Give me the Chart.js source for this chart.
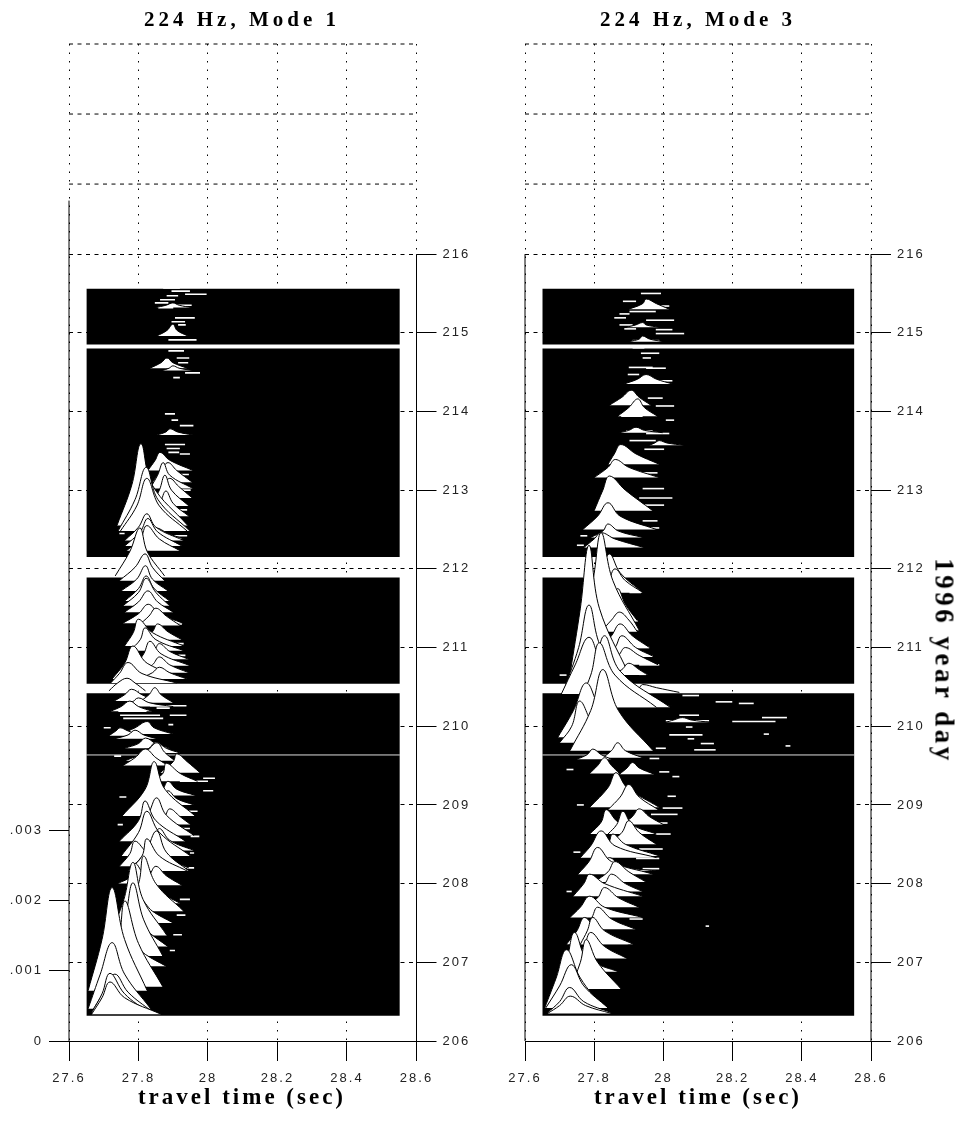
<!DOCTYPE html>
<html>
<head>
<meta charset="utf-8">
<title>224 Hz travel time</title>
<script src="https://cdn.jsdelivr.net/npm/chart.js@4"></script>
<style>
  html, body { margin: 0; background: #fff; }
  body { width: 961px; height: 1123px; position: relative; overflow: hidden; }
  canvas { position: absolute; top: 0; }
  .lbl { position: absolute; font: bold 21px "Liberation Serif", serif; letter-spacing: 4px; color: #000; white-space: nowrap; transform: translate(-50%, -50%); }
  .xlbl { font-size: 23px; letter-spacing: 3px; }
</style>
</head>
<body>
<canvas id="mode1" width="480" height="1123" style="left:0"></canvas>
<canvas id="mode3" width="481" height="1123" style="left:480px"></canvas>
<div class="lbl" style="left:242px;top:19px">224 Hz, Mode 1</div>
<div class="lbl" style="left:698px;top:19px">224 Hz, Mode 3</div>
<div class="lbl xlbl" style="left:242px;top:1097px">travel time (sec)</div>
<div class="lbl xlbl" style="left:698px;top:1097px">travel time (sec)</div>
<div class="lbl" style="left:944px;top:661px;font-size:27px;letter-spacing:3.5px;transform:translate(-50%,-50%) rotate(90deg)">1996 year day</div>
<script>
const timeTicks = [27.6, 27.8, 28, 28.2, 28.4, 28.6];
const dayTicks = [206, 207, 208, 209, 210, 211, 212, 213, 214, 215, 216];
const ampTicks = [0, 0.001, 0.002, 0.003];
const ampLabels = ["0", ".001", ".002", ".003"];
const upperGridDays = [216.89, 217.78, 218.67];

// black data blocks: [bottom day, top day]
const blockDays = [[206.32, 210.42], [210.54, 211.89], [212.15, 214.8], [214.85, 215.56]];
const blockTimes = [27.65, 28.552];
const gapLineDay = 209.635;

// [base day, half height day, peak day, t foot, t rise, t peak, t fall, t tail]
const mode1Traces = [
  [215.32, 215.35, 215.38, 27.848, 27.879, 27.899, 27.917, 27.954],
  [214.96, 215.03, 215.11, 27.853, 27.882, 27.899, 27.911, 27.942],
  [214.55, 214.62, 214.68, 27.833, 27.865, 27.882, 27.899, 27.94],
  [214.52, 214.55, 214.58, 27.868, 27.888, 27.899, 27.917, 27.957],
  [213.7, 213.74, 213.78, 27.853, 27.879, 27.891, 27.912, 27.957],
  [213.25, 213.38, 213.48, 27.827, 27.848, 27.862, 27.89, 27.957],
  [213.1, 213.25, 213.35, 27.84, 27.865, 27.885, 27.91, 27.955],
  [213.02, 213.19, 213.35, 27.833, 27.855, 27.871, 27.89, 27.957],
  [212.9, 213.05, 213.15, 27.85, 27.87, 27.89, 27.915, 27.955],
  [212.8, 213.0, 213.19, 27.835, 27.86, 27.876, 27.895, 27.945],
  [212.67, 212.83, 212.99, 27.84, 27.862, 27.879, 27.9, 27.945],
  [212.55, 213.07, 213.59, 27.738, 27.781, 27.807, 27.839, 27.942],
  [212.5, 212.6, 212.7, 27.81, 27.84, 27.86, 27.88, 27.935],
  [212.48, 212.88, 213.29, 27.741, 27.79, 27.822, 27.856, 27.948],
  [212.48, 212.8, 213.15, 27.748, 27.795, 27.824, 27.86, 27.94],
  [212.38, 212.45, 212.52, 27.8, 27.83, 27.85, 27.885, 27.93],
  [212.36, 212.53, 212.7, 27.76, 27.8, 27.824, 27.85, 27.93],
  [212.29, 212.47, 212.64, 27.76, 27.805, 27.827, 27.855, 27.925],
  [212.23, 212.38, 212.55, 27.765, 27.805, 27.824, 27.86, 27.92],
  [211.91, 212.22, 212.52, 27.733, 27.775, 27.804, 27.825, 27.875],
  [211.85, 212.02, 212.19, 27.745, 27.79, 27.819, 27.84, 27.875],
  [211.72, 211.87, 212.04, 27.75, 27.795, 27.82, 27.84, 27.885],
  [211.59, 211.75, 211.91, 27.76, 27.8, 27.822, 27.845, 27.89],
  [211.53, 211.7, 211.88, 27.755, 27.8, 27.822, 27.85, 27.89],
  [211.45, 211.58, 211.72, 27.76, 27.8, 27.827, 27.855, 27.9],
  [211.31, 211.43, 211.55, 27.755, 27.8, 27.828, 27.86, 27.928],
  [211.28, 211.4, 211.5, 27.8, 27.83, 27.85, 27.88, 27.92],
  [211.1, 211.2, 211.3, 27.81, 27.84, 27.855, 27.885, 27.925],
  [211.02, 211.19, 211.36, 27.76, 27.785, 27.8, 27.84, 27.93],
  [210.96, 211.1, 211.25, 27.775, 27.805, 27.819, 27.85, 27.93],
  [210.85, 210.95, 211.05, 27.82, 27.845, 27.86, 27.89, 27.945],
  [210.77, 210.92, 211.08, 27.79, 27.815, 27.833, 27.865, 27.948],
  [210.68, 210.78, 210.88, 27.8, 27.84, 27.86, 27.89, 27.945],
  [210.6, 210.8, 211.02, 27.724, 27.76, 27.784, 27.825, 27.94],
  [210.6, 210.68, 210.75, 27.8, 27.84, 27.86, 27.89, 27.94],
  [210.55, 210.67, 210.81, 27.72, 27.745, 27.77, 27.81, 27.91],
  [210.45, 210.55, 210.61, 27.715, 27.74, 27.767, 27.79, 27.82],
  [210.32, 210.4, 210.47, 27.73, 27.76, 27.78, 27.81, 27.85],
  [210.3, 210.4, 210.49, 27.8, 27.83, 27.847, 27.865, 27.9],
  [210.25, 210.3, 210.36, 27.75, 27.78, 27.8, 27.83, 27.9],
  [210.19, 210.25, 210.32, 27.72, 27.75, 27.775, 27.8, 27.84],
  [209.9, 209.98, 210.06, 27.75, 27.79, 27.825, 27.845, 27.9],
  [209.88, 209.94, 209.98, 27.715, 27.735, 27.747, 27.77, 27.81],
  [209.84, 209.89, 209.95, 27.73, 27.77, 27.79, 27.815, 27.855],
  [209.72, 209.78, 209.85, 27.76, 27.8, 27.82, 27.85, 27.89],
  [209.66, 209.72, 209.8, 27.8, 27.83, 27.85, 27.88, 27.92],
  [209.56, 209.67, 209.79, 27.76, 27.82, 27.853, 27.875, 27.905],
  [209.5, 209.6, 209.71, 27.755, 27.79, 27.82, 27.85, 27.885],
  [209.41, 209.55, 209.65, 27.862, 27.9, 27.91, 27.94, 27.977],
  [209.3, 209.4, 209.53, 27.84, 27.87, 27.88, 27.92, 27.97],
  [209.12, 209.2, 209.3, 27.85, 27.87, 27.885, 27.91, 27.965],
  [209.0, 209.08, 209.18, 27.85, 27.87, 27.885, 27.91, 27.96],
  [208.86, 208.96, 209.05, 27.85, 27.875, 27.89, 27.92, 27.955],
  [208.86, 209.2, 209.55, 27.753, 27.819, 27.845, 27.876, 27.963],
  [208.75, 208.85, 208.95, 27.85, 27.875, 27.89, 27.92, 27.95],
  [208.61, 208.87, 209.09, 27.76, 27.825, 27.852, 27.88, 27.96],
  [208.54, 208.8, 209.05, 27.745, 27.8, 27.819, 27.85, 27.935],
  [208.42, 208.55, 208.7, 27.8, 27.84, 27.86, 27.89, 27.96],
  [208.35, 208.65, 208.92, 27.75, 27.8, 27.824, 27.86, 27.95],
  [208.22, 208.38, 208.54, 27.745, 27.775, 27.79, 27.83, 27.94],
  [208.2, 208.32, 208.45, 27.79, 27.83, 27.85, 27.88, 27.945],
  [208.16, 208.4, 208.67, 27.77, 27.82, 27.852, 27.88, 27.945],
  [208.16, 208.35, 208.57, 27.77, 27.81, 27.824, 27.86, 27.94],
  [208.0, 208.1, 208.26, 27.74, 27.78, 27.79, 27.82, 27.875],
  [207.98, 208.1, 208.22, 27.8, 27.83, 27.85, 27.88, 27.925],
  [207.75, 207.88, 208.0, 27.77, 27.81, 27.83, 27.865, 27.92],
  [207.65, 208.0, 208.35, 27.76, 27.8, 27.815, 27.85, 27.93],
  [207.5, 207.65, 207.8, 27.75, 27.79, 27.805, 27.84, 27.9],
  [207.34, 207.8, 208.27, 27.718, 27.758, 27.784, 27.813, 27.882],
  [207.2, 207.38, 207.55, 27.74, 27.77, 27.79, 27.83, 27.885],
  [207.08, 207.54, 208.01, 27.72, 27.76, 27.784, 27.815, 27.87],
  [206.95, 207.1, 207.25, 27.73, 27.76, 27.78, 27.82, 27.88],
  [206.69, 207.24, 207.78, 27.7, 27.742, 27.761, 27.8, 27.87],
  [206.64, 207.29, 207.95, 27.655, 27.695, 27.724, 27.76, 27.825],
  [206.41, 206.85, 207.25, 27.655, 27.69, 27.724, 27.76, 27.835],
  [206.37, 206.62, 206.85, 27.665, 27.7, 27.732, 27.77, 27.84],
  [206.36, 206.6, 206.86, 27.665, 27.695, 27.718, 27.76, 27.83],
  [206.34, 206.55, 206.75, 27.665, 27.695, 27.718, 27.76, 27.865],
];

const mode3Traces = [
  [215.3, 215.37, 215.43, 27.9, 27.94, 27.95, 27.98, 28.017],
  [215.07, 215.1, 215.13, 27.892, 27.92, 27.94, 27.95, 27.988],
  [214.89, 214.92, 214.96, 27.902, 27.93, 27.94, 27.96, 27.998],
  [214.35, 214.41, 214.47, 27.887, 27.925, 27.95, 27.98, 28.026],
  [214.08, 214.18, 214.27, 27.844, 27.88, 27.907, 27.93, 27.964],
  [213.94, 214.05, 214.16, 27.868, 27.9, 27.926, 27.945, 27.983],
  [213.73, 213.76, 213.8, 27.873, 27.9, 27.921, 27.945, 27.998],
  [213.57, 213.6, 213.63, 27.959, 27.975, 27.988, 28.01, 28.06],
  [213.33, 213.46, 213.58, 27.84, 27.858, 27.877, 27.921, 27.988],
  [213.16, 213.29, 213.39, 27.8, 27.84, 27.861, 27.9, 27.988],
  [212.74, 213.0, 213.18, 27.8, 27.825, 27.844, 27.89, 27.969],
  [212.5, 212.67, 212.84, 27.767, 27.81, 27.84, 27.875, 27.98],
  [212.4, 212.48, 212.57, 27.79, 27.825, 27.84, 27.87, 27.94],
  [212.27, 212.38, 212.46, 27.77, 27.8, 27.82, 27.86, 27.945],
  [211.7, 211.95, 212.19, 27.79, 27.82, 27.844, 27.875, 27.94],
  [211.7, 211.85, 212.0, 27.8, 27.84, 27.86, 27.89, 27.94],
  [211.34, 211.55, 211.75, 27.8, 27.85, 27.868, 27.89, 27.925],
  [211.22, 211.85, 212.46, 27.758, 27.796, 27.82, 27.854, 27.93],
  [211.2, 211.35, 211.45, 27.82, 27.85, 27.873, 27.9, 27.925],
  [211.0, 211.15, 211.3, 27.82, 27.85, 27.875, 27.91, 27.96],
  [210.89, 211.0, 211.15, 27.83, 27.86, 27.88, 27.92, 27.97],
  [210.78, 210.9, 211.0, 27.83, 27.87, 27.89, 27.93, 27.985],
  [210.66, 211.5, 212.3, 27.73, 27.76, 27.785, 27.815, 27.9],
  [210.65, 210.72, 210.8, 27.85, 27.88, 27.9, 27.93, 27.955],
  [210.49, 211.0, 211.54, 27.715, 27.755, 27.785, 27.82, 27.91],
  [210.43, 210.49, 210.53, 27.9, 27.93, 27.94, 27.98, 28.046],
  [210.41, 210.78, 211.13, 27.705, 27.745, 27.785, 27.825, 27.92],
  [210.26, 210.3, 210.32, 27.9, 27.92, 27.93, 27.97, 28.026],
  [210.24, 210.7, 211.15, 27.76, 27.8, 27.83, 27.875, 28.02],
  [210.24, 210.65, 211.06, 27.75, 27.79, 27.815, 27.86, 27.98],
  [210.05, 210.08, 210.11, 28.007, 28.03, 28.055, 28.08, 28.136],
  [209.86, 210.2, 210.55, 27.695, 27.74, 27.777, 27.82, 27.9],
  [209.79, 210.0, 210.32, 27.7, 27.735, 27.758, 27.8, 27.86],
  [209.69, 210.2, 210.72, 27.73, 27.79, 27.825, 27.87, 27.97],
  [209.6, 209.69, 209.79, 27.825, 27.85, 27.868, 27.89, 27.94],
  [209.58, 209.64, 209.71, 27.75, 27.78, 27.796, 27.82, 27.85],
  [209.4, 209.5, 209.6, 27.787, 27.81, 27.83, 27.85, 27.873],
  [209.39, 209.47, 209.54, 27.873, 27.895, 27.911, 27.93, 27.974],
  [208.97, 209.22, 209.41, 27.787, 27.84, 27.863, 27.895, 27.988],
  [208.94, 209.1, 209.26, 27.84, 27.875, 27.9, 27.93, 27.985],
  [208.75, 208.85, 208.95, 27.88, 27.91, 27.93, 27.96, 28.0],
  [208.63, 208.78, 208.94, 27.787, 27.82, 27.835, 27.87, 27.96],
  [208.63, 208.75, 208.92, 27.84, 27.865, 27.883, 27.91, 27.98],
  [208.5, 208.65, 208.8, 27.84, 27.88, 27.9, 27.93, 27.98],
  [208.35, 208.5, 208.63, 27.8, 27.84, 27.854, 27.89, 27.99],
  [208.33, 208.48, 208.67, 27.76, 27.79, 27.82, 27.86, 27.98],
  [208.16, 208.22, 208.33, 27.8, 27.825, 27.844, 27.88, 27.98],
  [208.12, 208.28, 208.46, 27.753, 27.785, 27.81, 27.85, 27.97],
  [208.02, 208.15, 208.28, 27.8, 27.84, 27.86, 27.9, 27.95],
  [207.9, 208.0, 208.12, 27.79, 27.83, 27.85, 27.89, 27.94],
  [207.84, 208.0, 208.12, 27.739, 27.77, 27.787, 27.83, 27.94],
  [207.7, 207.82, 207.95, 27.77, 27.81, 27.83, 27.87, 27.93],
  [207.57, 207.7, 207.84, 27.73, 27.76, 27.787, 27.83, 27.94],
  [207.42, 207.55, 207.7, 27.75, 27.79, 27.81, 27.85, 27.92],
  [207.23, 207.4, 207.57, 27.72, 27.75, 27.772, 27.81, 27.9],
  [207.23, 207.4, 207.57, 27.76, 27.78, 27.796, 27.83, 27.913],
  [207.05, 207.2, 207.38, 27.74, 27.77, 27.79, 27.83, 27.895],
  [206.88, 207.0, 207.15, 27.72, 27.75, 27.77, 27.8, 27.87],
  [206.68, 207.02, 207.38, 27.687, 27.72, 27.743, 27.78, 27.873],
  [206.66, 207.0, 207.29, 27.73, 27.76, 27.777, 27.81, 27.878],
  [206.42, 206.8, 207.16, 27.657, 27.69, 27.72, 27.76, 27.825],
  [206.42, 206.7, 206.97, 27.66, 27.7, 27.734, 27.77, 27.84],
  [206.36, 206.5, 206.68, 27.665, 27.7, 27.729, 27.77, 27.85],
  [206.35, 206.45, 206.57, 27.665, 27.7, 27.731, 27.775, 27.85],
];

// thin white returns: [t start, t end, day]
const mode1Slivers = [
  [27.871, 27.919, 215.57], [27.895, 27.948, 215.53], [27.934, 27.996, 215.49], [27.881, 27.914, 215.47],
  [27.862, 27.905, 215.42], [27.847, 27.886, 215.38], [27.9, 27.953, 215.35], [27.857, 27.9, 215.32],
  [27.905, 27.962, 215.19], [27.895, 27.934, 215.14], [27.914, 27.936, 215.1], [27.886, 27.967, 214.91],
  [27.886, 27.931, 214.77], [27.91, 27.946, 214.68], [27.914, 27.943, 214.62], [27.934, 27.977, 214.49],
  [27.9, 27.919, 214.43], [27.876, 27.905, 213.97], [27.895, 27.914, 213.89], [27.919, 27.958, 213.82],
  [27.876, 27.934, 213.58], [27.881, 27.919, 213.53], [27.886, 27.917, 213.48], [27.919, 27.948, 213.46],
  [27.833, 27.938, 210.26], [27.742, 27.823, 210.19], [27.852, 27.89, 210.23], [27.747, 27.862, 210.14],
  [27.89, 27.938, 210.14], [27.756, 27.871, 210.1], [27.886, 27.9, 210.02], [27.986, 28.015, 209.18],
  [27.986, 28.02, 209.34], [27.919, 28.0, 209.3], [27.919, 27.948, 208.7], [27.948, 27.96, 208.39],
  [27.919, 27.948, 207.8], [27.92, 27.945, 213.2], [27.92, 27.95, 213.0], [27.915, 27.94, 212.75],
  [27.9, 27.94, 212.42], [27.745, 27.76, 212.45], [27.905, 27.925, 211.3], [27.91, 27.93, 211.05],
  [27.915, 27.935, 210.9], [27.7, 27.72, 209.98], [27.73, 27.75, 209.62], [27.745, 27.765, 209.1],
  [27.74, 27.755, 208.75], [27.945, 27.97, 208.92], [27.95, 27.975, 208.6], [27.94, 27.96, 208.2],
  [27.91, 27.935, 207.6], [27.9, 27.925, 207.35], [27.89, 27.905, 207.15],
];

const mode3Slivers = [
  [27.935, 27.983, 215.58], [27.935, 27.993, 215.5], [27.883, 27.921, 215.4], [27.964, 28.017, 215.34],
  [27.873, 27.902, 215.24], [27.902, 27.978, 215.27], [27.858, 27.892, 215.19], [27.95, 28.031, 215.16],
  [27.873, 27.911, 215.1], [27.978, 28.026, 215.04], [27.887, 27.921, 215.05], [27.978, 28.06, 214.99],
  [27.911, 27.988, 214.9], [27.911, 27.945, 214.81], [27.935, 27.988, 214.74], [27.94, 27.964, 214.68],
  [27.9, 27.969, 214.56], [27.95, 28.007, 214.55], [27.897, 27.93, 214.47], [27.959, 28.026, 214.39],
  [27.955, 27.998, 214.17], [27.978, 28.031, 214.07], [27.878, 27.94, 213.94], [28.007, 28.031, 213.89],
  [27.892, 27.969, 213.75], [27.95, 28.017, 213.72], [27.945, 28.002, 213.52], [27.902, 27.978, 213.63],
  [27.921, 27.983, 213.22], [27.94, 28.002, 213.02], [27.93, 28.026, 212.9], [27.93, 28.002, 212.81],
  [27.94, 27.983, 212.61], [27.921, 27.988, 212.52], [27.902, 27.935, 211.7], [27.883, 27.926, 211.34],
  [27.911, 27.959, 211.0], [27.921, 27.969, 210.89], [27.93, 27.988, 210.78], [27.93, 27.95, 210.66],
  [28.055, 28.103, 210.39], [28.151, 28.199, 210.31], [28.218, 28.261, 210.29], [28.046, 28.103, 210.14],
  [28.285, 28.357, 210.11], [28.199, 28.324, 210.06], [28.007, 28.132, 210.07], [28.065, 28.084, 209.99],
  [28.017, 28.113, 209.89], [28.29, 28.305, 209.9], [28.07, 28.089, 209.84], [28.108, 28.146, 209.78],
  [28.353, 28.367, 209.75], [28.089, 28.151, 209.7], [27.978, 28.007, 209.72], [27.96, 27.988, 209.59],
  [27.988, 28.017, 209.42], [28.026, 28.046, 209.36], [28.012, 28.036, 209.11], [27.998, 28.055, 208.96],
  [27.964, 28.041, 208.88], [27.969, 28.012, 208.77], [27.978, 28.021, 208.63], [27.93, 27.998, 208.44],
  [27.921, 27.988, 208.32], [27.94, 27.988, 208.19], [27.902, 27.94, 207.55], [28.122, 28.132, 207.46],
  [27.76, 27.78, 212.42], [27.75, 27.77, 212.3], [27.7, 27.72, 210.65], [27.69, 27.71, 210.5],
  [27.72, 27.74, 209.45], [27.75, 27.77, 209.0], [27.74, 27.76, 208.4], [27.72, 27.735, 207.9],
];

const lineStyle = { pointRadius: 0, pointHoverRadius: 0 };

function buildDatasets(traces, slivers, axisTop) {
  const sets = [];
  blockDays.forEach((b) => {
    sets.push({
      ...lineStyle,
      data: [{ x: blockTimes[0], y: b[1] }, { x: blockTimes[1], y: b[1] }],
      borderWidth: 0,
      backgroundColor: "#000",
      fill: { value: b[0] },
    });
  });
  sets.push({
    ...lineStyle,
    data: [{ x: blockTimes[0], y: gapLineDay }, { x: blockTimes[1], y: gapLineDay }],
    borderColor: "#ddd",
    borderWidth: 1,
  });
  upperGridDays.forEach((d) => {
    sets.push({
      ...lineStyle,
      data: [{ x: 27.6, y: d }, { x: 28.6, y: d }],
      borderColor: "#000",
      borderWidth: 1,
      borderDash: [4, 4.5],
      clip: false,
    });
  });
  sets.push({
    ...lineStyle,
    data: [{ x: 27.6, y: 206 }, { x: 27.6, y: axisTop }],
    borderColor: "#000",
    borderWidth: 1,
    clip: false,
  });
  sets.push({
    ...lineStyle,
    data: [{ x: 28.6, y: 206 }, { x: 28.6, y: 216 }],
    borderColor: "#000",
    borderWidth: 1,
    clip: false,
  });
  slivers.forEach((s) => {
    sets.push({
      ...lineStyle,
      data: [{ x: s[0], y: s[2] }, { x: s[1], y: s[2] }],
      borderColor: "#fff",
      borderWidth: 1.6,
    });
  });
  // highest baseline first so lower traces cover the ones behind them
  traces.slice().sort((a, b) => b[0] - a[0]).forEach((r) => {
    sets.push({
      ...lineStyle,
      data: [
        { x: r[3], y: r[0] },
        { x: r[4], y: r[1] },
        { x: r[5], y: r[2] },
        { x: r[6], y: r[1] },
        { x: r[7], y: r[0] },
      ],
      borderColor: "#000",
      borderWidth: 1,
      backgroundColor: "#fff",
      tension: 0.4,
      fill: { value: r[0] },
    });
  });
  // chart.js paints the first dataset last
  return sets.reverse();
}

const tickFont = { family: "Liberation Sans", size: 13 };
const spacing = { id: "spacing", beforeDraw: (c) => { c.ctx.letterSpacing = "2px"; } };

function buildChart(id, traces, slivers, axisTop, leftWidth, rightWidth, withAmp) {
  const scales = {
    x: {
      type: "linear",
      min: 27.6,
      max: 28.6,
      afterBuildTicks: (s) => { s.ticks = timeTicks.map((v) => ({ value: v })); },
      afterFit: (s) => { s.height = 82; },
      grid: { color: "#000", tickLength: 20, tickBorderDash: [], tickColor: "#000" },
      border: { display: true, color: "#000", dash: [1.5, 7] },
      ticks: { color: "#222", font: tickFont, padding: 10, maxRotation: 0, autoSkip: false, callback: (v) => String(v) },
    },
    y: {
      type: "linear",
      position: "right",
      min: 206,
      max: 218.67,
      afterBuildTicks: (s) => { s.ticks = dayTicks.map((v) => ({ value: v })); },
      afterFit: (s) => { s.width = rightWidth; },
      grid: { color: "#000", tickLength: 20, tickBorderDash: [], tickColor: "#000" },
      border: { display: false, dash: [4, 4.5] },
      ticks: { color: "#222", font: tickFont, padding: 6, autoSkip: false, callback: (v) => String(v) },
    },
  };
  if (withAmp) {
    scales.amp = {
      type: "linear",
      position: "left",
      min: 0,
      max: 0.014182,
      afterBuildTicks: (s) => { s.ticks = ampTicks.map((v) => ({ value: v })); },
      afterFit: (s) => { s.width = leftWidth; },
      grid: { drawOnChartArea: false, tickLength: 20, tickColor: "#000" },
      border: { display: false },
      ticks: { color: "#222", font: tickFont, padding: 6, autoSkip: false, callback: (v) => ampLabels[ampTicks.indexOf(v)] },
    };
  }
  return new Chart(document.getElementById(id), {
    type: "line",
    data: { datasets: buildDatasets(traces, slivers, axisTop) },
    options: {
      responsive: false,
      animation: false,
      layout: { padding: { top: 44, left: withAmp ? 0 : leftWidth, right: 0, bottom: 0 } },
      scales: scales,
      plugins: {
        legend: { display: false },
        tooltip: { enabled: false },
        filler: { drawTime: "beforeDatasetDraw", propagate: false },
      },
    },
    plugins: [spacing],
  });
}

buildChart("mode1", mode1Traces, mode1Slivers, 216.68, 69, 63.5, true);
buildChart("mode3", mode3Traces, mode3Slivers, 216, 45, 90, false);
</script>
</body>
</html>
